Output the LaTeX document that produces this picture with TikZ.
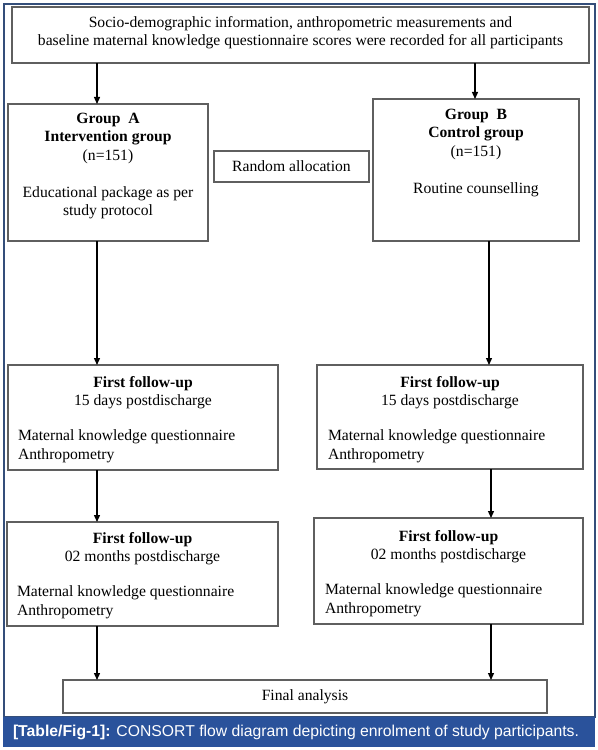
\documentclass[tikz,border=0pt]{standalone}
\usepackage{fontspec}
\setmainfont{Liberation Serif}
\newfontfamily\capfont{Liberation Sans}
\usetikzlibrary{arrows.meta}
\definecolor{frameblue}{RGB}{52,78,122}
\definecolor{capblue}{RGB}{42,82,155}
\definecolor{boxgray}{RGB}{95,95,95}
\begin{document}
\begin{tikzpicture}[x=1bp,y=-1bp,
  every node/.style={inner sep=0pt, outer sep=0pt},
  box/.style={draw=boxgray, line width=1.2bp, rectangle},
  txt/.style={font=\fontsize{15.7}{18.5}\selectfont, align=center},
  ltxt/.style={font=\fontsize{15.7}{18.5}\selectfont, align=left},
  arr/.style={line width=1.3bp, -{Triangle[length=7bp,width=6bp]}}
]
\useasboundingbox (0,0) rectangle (598,750);
% frame and caption
\draw[frameblue, line width=1.5bp] (4,4) rectangle (595,717);
\fill[capblue] (3,717) rectangle (595,747);
\node[text=white, font=\capfont\fontsize{15.8}{18}\selectfont, anchor=west] (cap) at (13,732)
  {\textbf{[Table/Fig-1]:} CONSORT flow diagram depicting enrolment of study participants.};

% x positions of connectors
\coordinate (xL) at (97,0);
\coordinate (xT) at (475,0);
\coordinate (xB) at (489,0);
\coordinate (xR) at (491,0);

% top box
\node[box, minimum width=577bp, minimum height=56bp] (top) at (300.5,35) {};
\node[txt] (toptxt) at (300.5,32.5) {Socio-demographic information, anthropometric measurements and\\baseline maternal knowledge questionnaire scores were recorded for all participants};

% group A
\node[box, minimum width=200bp, minimum height=137bp] (ga) at (108,172.5) {};
\node[txt, anchor=north] (gatxt) at (108,113) {\textbf{Group\ \ A}\\\textbf{Intervention group}\\(n=151)\\[18.5bp]Educational package as per\\study protocol};

% random allocation
\node[box, minimum width=155bp, minimum height=31bp] (rand) at (291.5,166.5) {};
\node[txt] (randtxt) at (291.5,166.5) {Random allocation};

% group B
\node[box, minimum width=206bp, minimum height=142bp] (gb) at (476,170) {};
\node[txt, anchor=north] (gbtxt) at (476,109) {\textbf{Group\ \ B}\\\textbf{Control group}\\(n=151)\\[18.5bp]Routine counselling};

% follow-up 1 left
\node[box, minimum width=270bp, minimum height=105bp] (fa1) at (143,417.5) {};
\node[txt, anchor=north] (fa1t) at (143,376) {\textbf{First follow-up}\\15 days postdischarge};
\node[ltxt, anchor=north west] (fa1b) at (18,430) {Maternal knowledge questionnaire\\Anthropometry};

% follow-up 1 right
\node[box, minimum width=266bp, minimum height=104bp] (fb1) at (450,417) {};
\node[txt, anchor=north] (fb1t) at (450,376) {\textbf{First follow-up}\\15 days postdischarge};
\node[ltxt, anchor=north west] (fb1b) at (328,430) {Maternal knowledge questionnaire\\Anthropometry};

% follow-up 2 left
\node[box, minimum width=271bp, minimum height=104bp] (fa2) at (142.5,574) {};
\node[txt, anchor=north] (fa2t) at (142.5,532) {\textbf{First follow-up}\\02 months postdischarge};
\node[ltxt, anchor=north west] (fa2b) at (17,586) {Maternal knowledge questionnaire\\Anthropometry};

% follow-up 2 right
\node[box, minimum width=269bp, minimum height=106bp] (fb2) at (448.5,571) {};
\node[txt, anchor=north] (fb2t) at (448.5,530) {\textbf{First follow-up}\\02 months postdischarge};
\node[ltxt, anchor=north west] (fb2b) at (325,584) {Maternal knowledge questionnaire\\Anthropometry};

% final
\node[box, minimum width=484bp, minimum height=33bp] (fin) at (305,696.5) {};
\node[txt] (fintxt) at (305,696.5) {Final analysis};

% connectors
\draw[arr] (top.south -| xL) -- (ga.north -| xL);
\draw[arr] (top.south -| xT) -- (gb.north -| xT);
\draw[arr] (ga.south -| xL) -- (fa1.north -| xL);
\draw[arr] (gb.south -| xB) -- (fb1.north -| xB);
\draw[arr] (fa1.south -| xL) -- (fa2.north -| xL);
\draw[arr] (fb1.south -| xR) -- (fb2.north -| xR);
\draw[arr] (fa2.south -| xL) -- (fin.north -| xL);
\draw[arr] (fb2.south -| xR) -- (fin.north -| xR);
\end{tikzpicture}
\end{document}
